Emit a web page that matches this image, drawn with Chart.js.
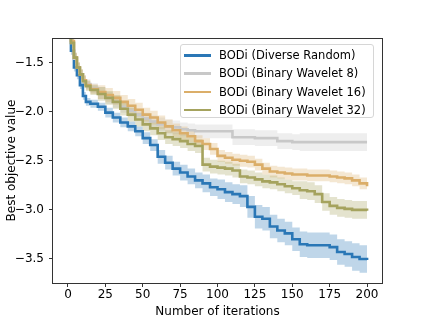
<!DOCTYPE html>
<html>
<head>
<meta charset="utf-8">
<script src="https://cdn.jsdelivr.net/npm/chart.js@4.4.1/dist/chart.umd.min.js"></script>
<style>
  body { margin: 0; background: #fff; }
  #wrap { position: relative; width: 425px; height: 319px; }
  #legend {
    position: absolute; left: 180px; top: 44px; width: 192px; height: 72px;
    border: 1px solid #d6d6d6; border-radius: 3px; background: rgba(255,255,255,0.8);
    font-family: 'DejaVu Sans', sans-serif; font-size: 11.5px; color: #000;
  }
  .item { position: absolute; left: 0; height: 14px; line-height: 14px; white-space: nowrap; }
  .item .swatch { position: absolute; left: 3px; top: 6px; width: 27px; height: 2.5px; }
  .item span { position: absolute; left: 38px; top: 0; }
</style>
</head>
<body>
<div id="wrap">
  <canvas id="chart" width="425" height="319"></canvas>
  <div id="legend"></div>
</div>
<script>
const iterations = [0, 2, 4, 6, 8, 10, 12, 15, 20, 25, 30, 35, 40, 45, 50, 55, 60, 65, 70, 75,
  80, 85, 90, 95, 100, 105, 110, 115, 120, 125, 130, 135, 140, 145, 150, 155, 160, 165, 170, 175,
  180, 185, 190, 195, 200];

const seriesNames = ['BODi (Diverse Random)', 'BODi (Binary Wavelet 8)', 'BODi (Binary Wavelet 16)', 'BODi (Binary Wavelet 32)'];

// mean best value per iteration
const diverseRandom = [-1.05, -1.38, -1.55, -1.63, -1.73, -1.84, -1.90, -1.92, -1.95, -2.01,
  -2.06, -2.11, -2.15, -2.20, -2.27, -2.34, -2.46, -2.52, -2.58, -2.62,
  -2.66, -2.70, -2.73, -2.77, -2.79, -2.82, -2.84, -2.86, -2.97, -3.07,
  -3.09, -3.17, -3.21, -3.24, -3.30, -3.35, -3.36, -3.36, -3.36, -3.38,
  -3.43, -3.45, -3.48, -3.50, -3.51];
const wavelet8 = [-1.00, -1.30, -1.46, -1.55, -1.62, -1.68, -1.72, -1.76, -1.81, -1.86,
  -1.90, -1.95, -1.99, -2.03, -2.07, -2.10, -2.13, -2.15, -2.16, -2.18,
  -2.19, -2.20, -2.20, -2.20, -2.20, -2.20, -2.26, -2.26, -2.26, -2.27,
  -2.27, -2.27, -2.30, -2.30, -2.31, -2.31, -2.31, -2.31, -2.31, -2.31,
  -2.31, -2.31, -2.31, -2.31, -2.31];
const wavelet16 = [-1.00, -1.28, -1.45, -1.55, -1.62, -1.68, -1.73, -1.77, -1.80, -1.83,
  -1.86, -1.90, -1.94, -1.98, -2.03, -2.06, -2.11, -2.15, -2.19, -2.22,
  -2.25, -2.30, -2.33, -2.38, -2.45, -2.47, -2.49, -2.50, -2.51, -2.54,
  -2.58, -2.61, -2.62, -2.63, -2.64, -2.64, -2.65, -2.65, -2.65, -2.66,
  -2.67, -2.68, -2.70, -2.73, -2.76];
const wavelet32 = [-1.00, -1.30, -1.45, -1.55, -1.62, -1.69, -1.74, -1.78, -1.82, -1.86,
  -1.90, -1.97, -2.03, -2.08, -2.13, -2.17, -2.22, -2.26, -2.28, -2.30,
  -2.33, -2.35, -2.54, -2.56, -2.57, -2.58, -2.60, -2.66, -2.67, -2.69,
  -2.71, -2.72, -2.74, -2.76, -2.78, -2.80, -2.81, -2.84, -2.92, -2.96,
  -2.98, -2.99, -3.00, -3.00, -3.01];

// half width of the shaded band
const diverseRandomErr = [0.03, 0.04, 0.04, 0.04, 0.04, 0.04, 0.04, 0.04, 0.04, 0.05,
  0.05, 0.05, 0.05, 0.05, 0.06, 0.06, 0.07, 0.07, 0.07, 0.08,
  0.08, 0.08, 0.09, 0.09, 0.10, 0.10, 0.10, 0.11, 0.11, 0.12,
  0.12, 0.12, 0.12, 0.12, 0.12, 0.13, 0.13, 0.13, 0.13, 0.13,
  0.13, 0.13, 0.14, 0.14, 0.14];
const wavelet8Err = [0.03, 0.05, 0.05, 0.05, 0.05, 0.05, 0.05, 0.05, 0.06, 0.06,
  0.06, 0.06, 0.06, 0.06, 0.06, 0.06, 0.07, 0.07, 0.07, 0.07,
  0.07, 0.07, 0.07, 0.07, 0.07, 0.07, 0.08, 0.08, 0.08, 0.08,
  0.08, 0.08, 0.08, 0.08, 0.08, 0.09, 0.09, 0.09, 0.09, 0.09,
  0.09, 0.09, 0.09, 0.09, 0.09];
const wavelet16Err = [0.03, 0.05, 0.05, 0.05, 0.05, 0.05, 0.05, 0.05, 0.07, 0.07,
  0.07, 0.07, 0.07, 0.07, 0.07, 0.07, 0.07, 0.07, 0.07, 0.07,
  0.06, 0.06, 0.06, 0.06, 0.06, 0.06, 0.06, 0.06, 0.06, 0.06,
  0.06, 0.06, 0.06, 0.06, 0.06, 0.06, 0.06, 0.06, 0.06, 0.06,
  0.06, 0.06, 0.06, 0.06, 0.06];
const wavelet32Err = [0.03, 0.05, 0.05, 0.05, 0.05, 0.05, 0.05, 0.05, 0.07, 0.07,
  0.07, 0.07, 0.07, 0.07, 0.07, 0.07, 0.07, 0.07, 0.07, 0.07,
  0.07, 0.07, 0.07, 0.07, 0.07, 0.07, 0.07, 0.07, 0.07, 0.07,
  0.07, 0.07, 0.07, 0.07, 0.07, 0.09, 0.09, 0.09, 0.09, 0.09,
  0.09, 0.09, 0.09, 0.09, 0.09];

const xTicks = [0, 25, 50, 75, 100, 125, 150, 175, 200];
const yTicks = [-3.5, -3.0, -2.5, -2.0, -1.5];

const colors = ['#2a77b6', '#c8c8c8', '#dbae69', '#a5a35e'];
const means = [diverseRandom, wavelet8, wavelet16, wavelet32];
const errs = [diverseRandomErr, wavelet8Err, wavelet16Err, wavelet32Err];

const FONT = "'DejaVu Sans', sans-serif";

function pts(values) {
  return iterations.map((it, i) => ({ x: it, y: values[i] }));
}
function withAlpha(hex, a) {
  const n = parseInt(hex.slice(1), 16);
  return `rgba(${n >> 16},${(n >> 8) & 255},${n & 255},${a})`;
}

const datasets = [];
// bands first (behind), then the lines
means.forEach((m, k) => {
  const e = errs[k];
  datasets.push({
    data: pts(m.map((v, i) => v + e[i])),
    borderWidth: 0, pointRadius: 0, fill: false, stepped: 'before', clip: 0,
    order: 20 - k
  });
  datasets.push({
    data: pts(m.map((v, i) => v - e[i])),
    borderWidth: 0, pointRadius: 0, fill: '-1', stepped: 'before', clip: 0,
    backgroundColor: withAlpha(colors[k], 0.3),
    order: 20 - k
  });
});
means.forEach((m, k) => {
  datasets.push({
    label: seriesNames[k],
    data: pts(m),
    borderColor: colors[k], borderWidth: 2.6, pointRadius: 0,
    fill: false, stepped: 'before', clip: 0,
    order: 10 - k
  });
});

const frame = {
  id: 'frame',
  afterDraw(chart) {
    const { ctx, chartArea: a } = chart;
    ctx.save();
    ctx.strokeStyle = '#333';
    ctx.lineWidth = 1;
    ctx.strokeRect(Math.round(a.left) - 0.5, Math.round(a.top) + 0.5,
      Math.round(a.right - a.left) + 1, Math.round(a.bottom - a.top));
    ctx.restore();
  }
};

new Chart(document.getElementById('chart'), {
  type: 'line',
  data: { datasets },
  options: {
    responsive: false,
    animation: false,
    devicePixelRatio: 1,
    layout: { padding: { top: 38, right: 43, bottom: 0, left: 0 } },
    plugins: { legend: { display: false }, tooltip: { enabled: false } },
    scales: {
      x: {
        type: 'linear', min: -10, max: 210,
        afterBuildTicks: s => { s.ticks = xTicks.map(v => ({ value: v })); },
        afterFit: s => { s.height = 36; },
        ticks: { color: '#000', font: { family: FONT, size: 12 }, padding: 1, maxRotation: 0, autoSkip: false },
        grid: { drawOnChartArea: false, drawTicks: true, tickLength: 4, color: '#333' },
        border: { display: false },
        title: { display: true, text: 'Number of iterations', color: '#000',
          font: { family: FONT, size: 12 }, padding: { top: 0, bottom: 0 } }
      },
      y: {
        type: 'linear', min: -3.745, max: -1.25,
        afterBuildTicks: s => { s.ticks = yTicks.map(v => ({ value: v })); },
        afterFit: s => { s.width = 53; },
        ticks: { color: '#000', font: { family: FONT, size: 12 }, padding: 5,
          callback: v => v.toFixed(1).replace('-', '\u2212') },
        grid: { drawOnChartArea: false, drawTicks: true, tickLength: 4, color: '#333' },
        border: { display: false },
        title: { display: true, text: 'Best objective value', color: '#000',
          font: { family: FONT, size: 12 }, padding: { top: 5, bottom: 0 } }
      }
    }
  },
  plugins: [frame]
});

// legend box drawn as html over the plot
const legend = document.getElementById('legend');
seriesNames.forEach((name, k) => {
  const row = document.createElement('div');
  row.className = 'item';
  row.style.top = (3 + k * 18.3) + 'px';
  row.style.width = '100%';
  row.innerHTML = `<div class="swatch" style="background:${colors[k]}"></div><span>${name}</span>`;
  legend.appendChild(row);
});
</script>
</body>
</html>
